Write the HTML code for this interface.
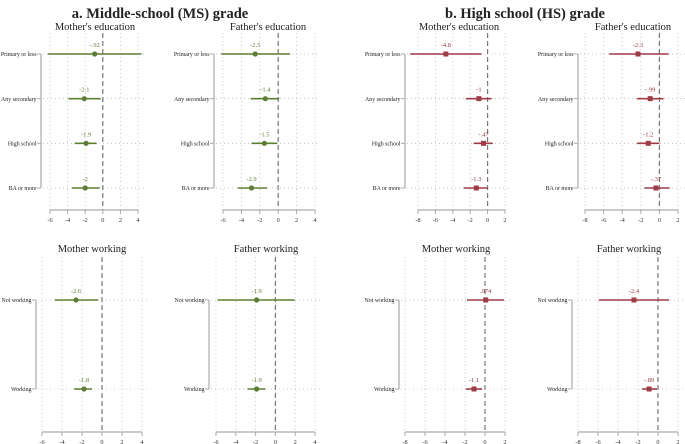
<!DOCTYPE html>
<html><head><meta charset="utf-8"><style>
body{margin:0;background:#fff}
svg{display:block;font-family:"Liberation Serif",serif}
</style></head><body>
<svg id="c" width="685" height="444">
<text x="160" y="18" text-anchor="middle" font-size="14.5" font-weight="bold" fill="#222">a. Middle-school (MS) grade</text>
<text x="525" y="18" text-anchor="middle" font-size="14.5" font-weight="bold" fill="#222">b. High school (HS) grade</text>
</svg>
<script>
const eduCats = ["Primary or less","Any secondary","High school","BA or more"];
const workCats = ["Not working","Working"];
const msMotherEdu = [-0.92,-2.1,-1.9,-2];
const msMotherEduLo = [-6.25,-3.9,-3.2,-3.5];
const msMotherEduHi = [4.4,-0.25,-0.7,-0.35];
const msMotherEduLab = ["-.92","-2.1","-1.9","-2"];
const msFatherEdu = [-2.5,-1.4,-1.5,-2.9];
const msFatherEduLo = [-6.2,-3.0,-2.9,-4.4];
const msFatherEduHi = [1.3,0.1,-0.1,-1.2];
const msFatherEduLab = ["-2.5","-1.4","-1.5","-2.9"];
const hsMotherEdu = [-4.8,-1,-0.47,-1.3];
const hsMotherEduLo = [-8.9,-2.5,-1.6,-2.75];
const hsMotherEduHi = [-0.7,0.45,0.6,0];
const hsMotherEduLab = ["-4.8","-1","-.47","-1.3"];
const hsFatherEdu = [-2.3,-0.99,-1.2,-0.37];
const hsFatherEduLo = [-5.4,-2.4,-2.4,-1.6];
const hsFatherEduHi = [1.0,0.45,0,1.1];
const hsFatherEduLab = ["-2.3","-.99","-1.2","-.37"];
const msMotherWork = [-2.6,-1.8];
const msMotherWorkLo = [-4.7,-2.8];
const msMotherWorkHi = [-0.4,-1.0];
const msMotherWorkLab = ["-2.6","-1.8"];
const msFatherWork = [-1.9,-1.9];
const msFatherWorkLo = [-5.85,-2.8];
const msFatherWorkHi = [1.95,-1.0];
const msFatherWorkLab = ["-1.9","-1.9"];
const hsMotherWork = [0.074,-1.1];
const hsMotherWorkLo = [-1.8,-1.9];
const hsMotherWorkHi = [1.9,-0.3];
const hsMotherWorkLab = [".074","-1.1"];
const hsFatherWork = [-2.4,-0.89];
const hsFatherWorkLo = [-5.9,-1.6];
const hsFatherWorkHi = [1.1,-0.1];
const hsFatherWorkLab = ["-2.4","-.89"];
const msTicks = [-6,-4,-2,0,2,4];
const hsTicks = [-8,-6,-4,-2,0,2];

const G="#5b7e31", R="#a03a45";
const svg=document.getElementById('c');
const NS="http://www.w3.org/2000/svg";
function mk(tag,attrs,parent){const e=document.createElementNS(NS,tag);for(const k in attrs)e.setAttribute(k,attrs[k]);(parent||svg).appendChild(e);return e;}

function panel(o){
  const g=mk('g',{});
  
  
  const t0=o.ticks[0], t1=o.ticks[o.ticks.length-1];
  const xs=v=>o.x0+(v-t0)*(o.x1-o.x0)/(t1-t0);
  const n=o.cats.length;
  const ys=i=>o.r0+i*(o.r1-o.r0)/(n-1);
  const tt=mk('text',{x:o.tx,y:o.titleY,'text-anchor':'middle','font-size':10.5,fill:'#222'},g);
  tt.textContent=o.title;
  
  
  o.ticks.forEach(v=>{
    if(v===0)return;
    const l=mk('line',{x1:xs(v),x2:xs(v),y1:o.top,y2:o.axisY,stroke:'#bbb','stroke-width':0.8,'stroke-dasharray':'1 3'},g);
    
    
  });
  for(let i=0;i<n;i++){
    const l=mk('line',{x1:o.bx+2,x2:o.dotEnd,y1:ys(i),y2:ys(i),stroke:'#bbb','stroke-width':0.8,'stroke-dasharray':'1 3'},g);
    
    
  }
  const z=mk('line',{x1:xs(0),x2:xs(0),y1:o.top,y2:o.axisY,stroke:'#777','stroke-width':1.2,'stroke-dasharray':'5 3'},g);
  
  
  const ax=mk('line',{x1:xs(t0),x2:xs(t1),y1:o.axisY,y2:o.axisY,stroke:'#aaa','stroke-width':1.2},g);
  
  
  o.ticks.forEach(v=>{
    const tk=mk('line',{x1:xs(v),x2:xs(v),y1:o.axisY,y2:o.axisY+4,stroke:'#aaa','stroke-width':1},g);
    
    
    const tl=mk('text',{x:xs(v),y:o.axisY+12,'text-anchor':'middle','font-size':6.3,fill:'#333'},g);
    tl.textContent=String(v);
    
    
  });
  const ya=mk('line',{x1:o.bx,x2:o.bx,y1:ys(0),y2:ys(n-1),stroke:'#aaa','stroke-width':1.2},g);
  
  
  for(let i=0;i<n;i++){
    const y=ys(i);
    const tk=mk('line',{x1:o.bx-4,x2:o.bx,y1:y,y2:y,stroke:'#aaa','stroke-width':1},g);
    
    
    const lb=mk('text',{x:o.bx-4.5,y:y+2.2,'text-anchor':'end','font-size':5.9,fill:'#222'},g);
    lb.textContent=o.cats[i];
    
    
    const ci=mk('line',{x1:xs(o.lo[i]),x2:xs(o.hi[i]),y1:y,y2:y,stroke:o.col,'stroke-width':1.6},g);
    
    
    let pt;
    if(o.sq){pt=mk('rect',{x:xs(o.v[i])-2.5,y:y-2.5,width:5,height:5,fill:o.col},g);}
    else{pt=mk('circle',{cx:xs(o.v[i]),cy:y,r:2.6,fill:o.col},g);}
    
    
    const vl=mk('text',{x:xs(o.v[i]),y:y-7,'text-anchor':'middle','font-size':6.5,fill:o.col},g);
    vl.textContent=o.lab[i];
    
    
  }
}
const topL={titleY:30,top:33,r0:54,r1:188,axisY:210};
const botL={titleY:252,top:257,r0:300,r1:389,axisY:432};
panel(Object.assign({name:'ms-mother-education',title:"Mother's education",tx:95,cats:eduCats,v:msMotherEdu,lo:msMotherEduLo,hi:msMotherEduHi,lab:msMotherEduLab,ticks:msTicks,x0:50,x1:138,bx:41,dotEnd:147,col:G},topL));
panel(Object.assign({name:'ms-father-education',title:"Father's education",tx:268,cats:eduCats,v:msFatherEdu,lo:msFatherEduLo,hi:msFatherEduHi,lab:msFatherEduLab,ticks:msTicks,x0:223,x1:315,bx:214,dotEnd:320,col:G},topL));
panel(Object.assign({name:'hs-mother-education',title:"Mother's education",tx:459,cats:eduCats,v:hsMotherEdu,lo:hsMotherEduLo,hi:hsMotherEduHi,lab:hsMotherEduLab,ticks:hsTicks,x0:418,x1:505,bx:405,dotEnd:510,col:R,sq:true},topL));
panel(Object.assign({name:'hs-father-education',title:"Father's education",tx:633,cats:eduCats,v:hsFatherEdu,lo:hsFatherEduLo,hi:hsFatherEduHi,lab:hsFatherEduLab,ticks:hsTicks,x0:585,x1:678,bx:578,dotEnd:685,col:R,sq:true},topL));
panel(Object.assign({name:'ms-mother-working',title:"Mother working",tx:92,cats:workCats,v:msMotherWork,lo:msMotherWorkLo,hi:msMotherWorkHi,lab:msMotherWorkLab,ticks:msTicks,x0:42,x1:142,bx:36,dotEnd:148,col:G},botL));
panel(Object.assign({name:'ms-father-working',title:"Father working",tx:266,cats:workCats,v:msFatherWork,lo:msFatherWorkLo,hi:msFatherWorkHi,lab:msFatherWorkLab,ticks:msTicks,x0:216,x1:315,bx:209,dotEnd:322,col:G},botL));
panel(Object.assign({name:'hs-mother-working',title:"Mother working",tx:456,cats:workCats,v:hsMotherWork,lo:hsMotherWorkLo,hi:hsMotherWorkHi,lab:hsMotherWorkLab,ticks:hsTicks,x0:405,x1:505,bx:399,dotEnd:512,col:R,sq:true},botL));
panel(Object.assign({name:'hs-father-working',title:"Father working",tx:629,cats:workCats,v:hsFatherWork,lo:hsFatherWorkLo,hi:hsFatherWorkHi,lab:hsFatherWorkLab,ticks:hsTicks,x0:578,x1:678,bx:572,dotEnd:685,col:R,sq:true},botL));
</script>
</body></html>
